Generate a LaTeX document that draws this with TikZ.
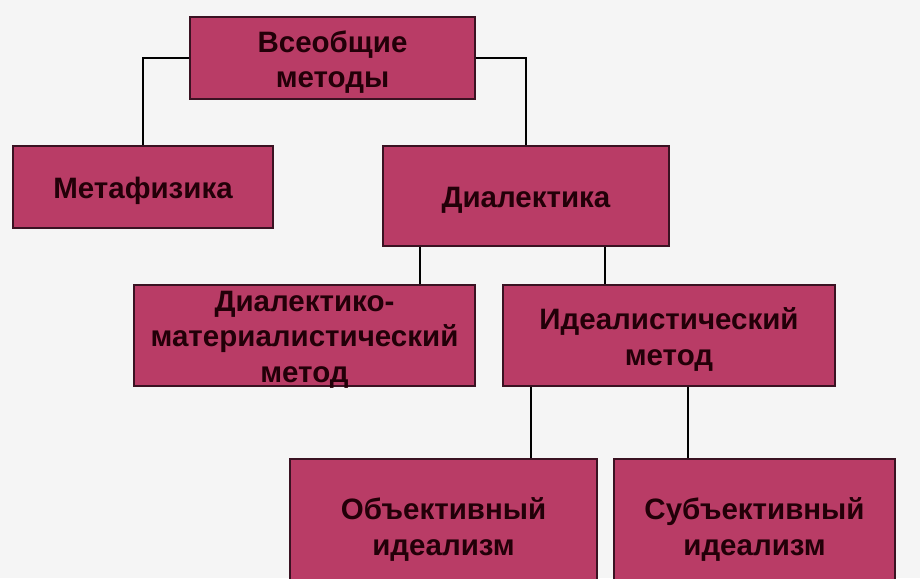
\documentclass[tikz,border=0pt]{standalone}
\usepackage{fontspec}
\setmainfont{Liberation Sans}
\definecolor{boxfill}{HTML}{B93C66}
\definecolor{boxline}{HTML}{3A1222}
\definecolor{txt}{HTML}{220008}
\definecolor{bg}{HTML}{F5F5F5}
\tikzset{
  box/.style={draw=boxline, line width=1.6pt, fill=boxfill, inner sep=0pt},
  lab/.style={align=center, font=\fontsize{29.5}{35.5}\selectfont\bfseries,
    text=txt, inner sep=0pt, yshift=-4pt},
  link/.style={draw=black, line width=1.2pt}
}
\begin{document}
\begin{tikzpicture}[x=1pt,y=-1pt]
\useasboundingbox (0,0) rectangle (920,578);
\clip (0,0) rectangle (920,578);
\fill[bg] (0,0) rectangle (920,578);
\node[box, minimum width=285pt, minimum height=82pt,
  label={[lab]center:{Всеобщие\\методы}}] (top) at (332.5,58) {};
\node[box, minimum width=260pt, minimum height=82pt,
  label={[lab]center:{Метафизика}}] (meta) at (143,187) {};
\node[box, minimum width=286pt, minimum height=100pt,
  label={[lab]center:{Диалектика}}] (dial) at (526,196) {};
\node[box, minimum width=341pt, minimum height=101pt,
  label={[lab]center:{Диалектико-\\материалистический\\метод}}] (dm) at (304.5,335.5) {};
\node[box, minimum width=332pt, minimum height=101pt,
  label={[lab]center:{Идеалистический\\метод}}] (ideal) at (669,335.5) {};
\node[box, minimum width=307pt, minimum height=133pt,
  label={[lab]center:{Объективный\\идеализм}}] (obj) at (443.5,525.5) {};
\node[box, minimum width=281pt, minimum height=133pt,
  label={[lab]center:{Субъективный\\идеализм}}] (subj) at (754.5,525.5) {};
\draw[link] (top.west) -| (meta.north);
\draw[link] (top.east) -| (dial.north);
\draw[link] (dial.south -| 420,0) -- (dm.north -| 420,0);
\draw[link] (dial.south -| 605,0) -- (ideal.north -| 605,0);
\draw[link] (ideal.south -| 531,0) -- (obj.north -| 531,0);
\draw[link] (ideal.south -| 688,0) -- (subj.north -| 688,0);
\end{tikzpicture}
\end{document}
